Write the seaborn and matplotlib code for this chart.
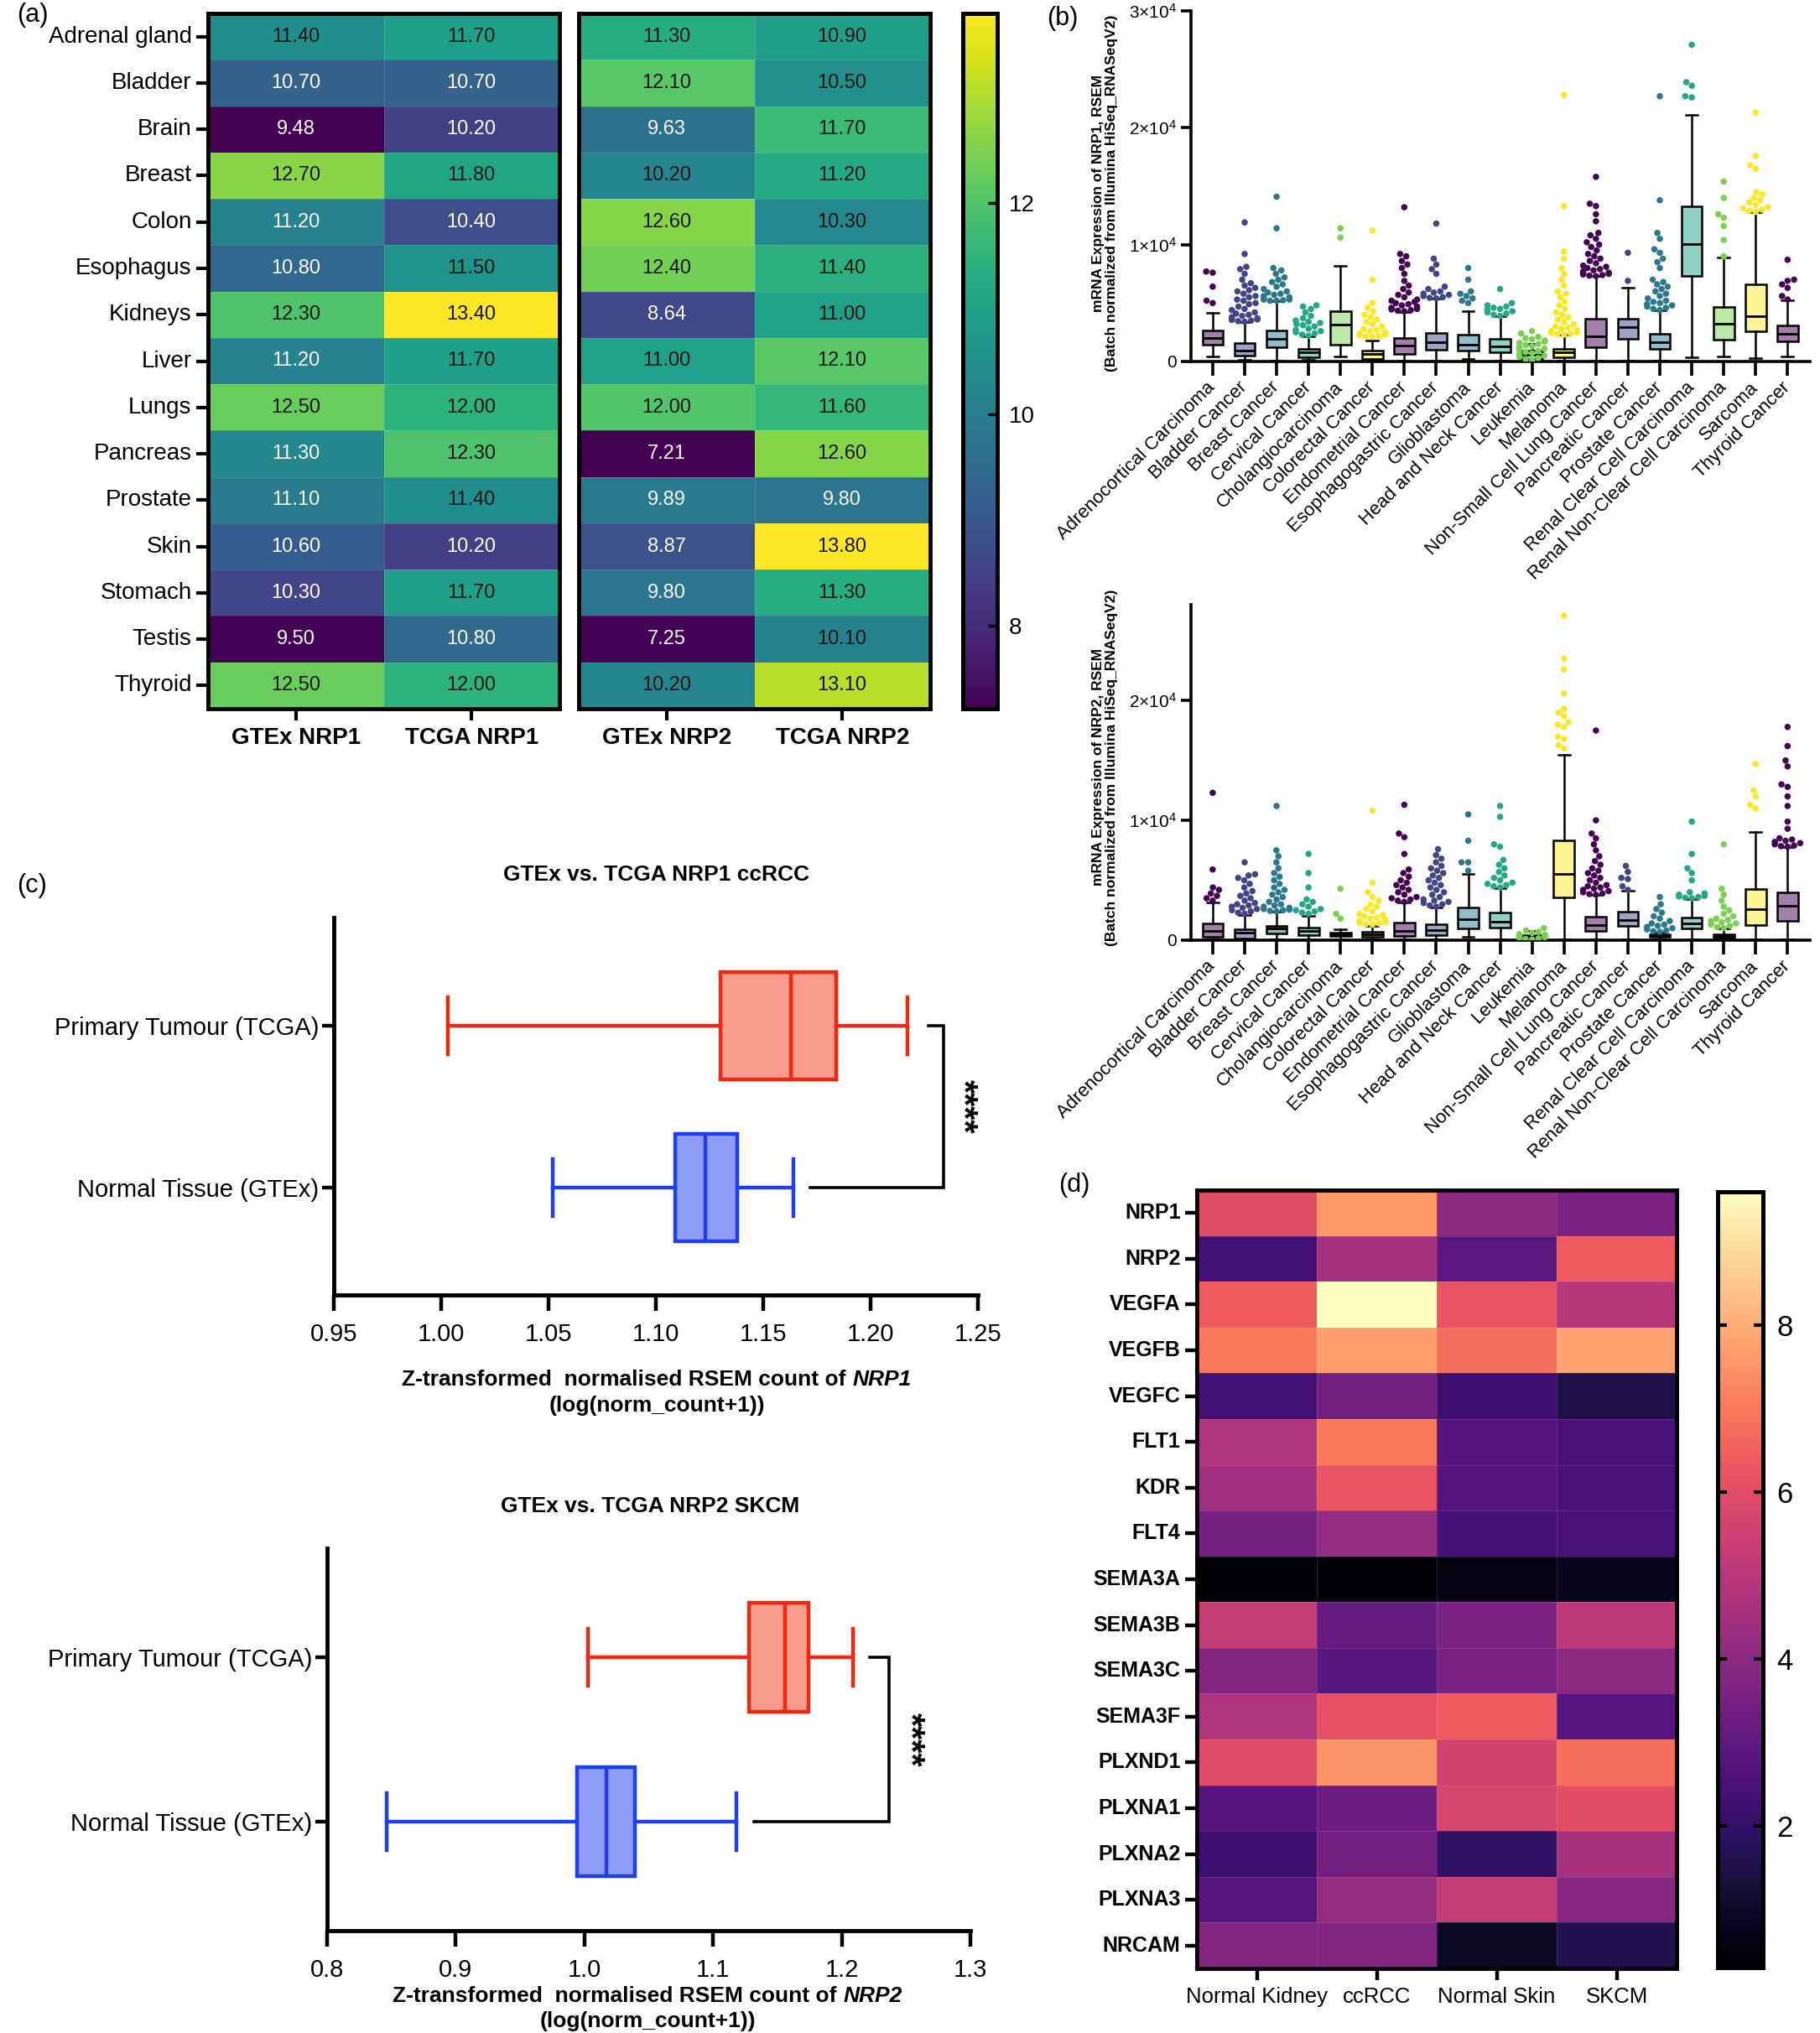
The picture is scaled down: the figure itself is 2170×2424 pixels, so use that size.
import warnings

import numpy as np
import pandas as pd
import matplotlib
matplotlib.use("Agg")
import matplotlib.pyplot as plt
import seaborn as sns
from matplotlib import font_manager
from matplotlib.colors import to_rgb

warnings.filterwarnings("ignore")

# Fonts: Arial-like and a condensed one when available
installed = {f.name for f in font_manager.fontManager.ttflist}
ARIAL = "Liberation Sans"
NARROW = "Liberation Sans Narrow" if "Liberation Sans Narrow" in installed else "Liberation Sans"
plt.rcParams["font.family"] = ARIAL
plt.rcParams["mathtext.fontset"] = "custom"
plt.rcParams["mathtext.rm"] = NARROW
plt.rcParams["mathtext.it"] = NARROW + ":italic"
plt.rcParams["mathtext.bf"] = NARROW + ":bold"

# ---------------- (a) NRP1 / NRP2 tissue expression ----------------
tissues = ["Adrenal gland", "Bladder", "Brain", "Breast", "Colon", "Esophagus", "Kidneys",
           "Liver", "Lungs", "Pancreas", "Prostate", "Skin", "Stomach", "Testis", "Thyroid"]
gtex_nrp1 = [11.40, 10.70, 9.48, 12.70, 11.20, 10.80, 12.30, 11.20, 12.50, 11.30, 11.10, 10.60, 10.30, 9.50, 12.50]
tcga_nrp1 = [11.70, 10.70, 10.20, 11.80, 10.40, 11.50, 13.40, 11.70, 12.00, 12.30, 11.40, 10.20, 11.70, 10.80, 12.00]
gtex_nrp2 = [11.30, 12.10, 9.63, 10.20, 12.60, 12.40, 8.64, 11.00, 12.00, 7.21, 9.89, 8.87, 9.80, 7.25, 10.20]
tcga_nrp2 = [10.90, 10.50, 11.70, 11.20, 10.30, 11.40, 11.00, 12.10, 11.60, 12.60, 9.80, 13.80, 11.30, 10.10, 13.10]
cbar_a_ticks = [8, 10, 12]

# ---------------- (b) NRP1 / NRP2 across cancers (box stats + outliers) ----------------
cancers = ["Adrenocortical Carcinoma", "Bladder Cancer", "Breast Cancer", "Cervical Cancer",
           "Cholangiocarcinoma", "Colorectal Cancer", "Endometrial Cancer", "Esophagogastric Cancer",
           "Glioblastoma", "Head and Neck Cancer", "Leukemia", "Melanoma",
           "Non-Small Cell Lung Cancer", "Pancreatic Cancer", "Prostate Cancer",
           "Renal Clear Cell Carcinoma", "Renal Non-Clear Cell Carcinoma", "Sarcoma", "Thyroid Cancer"]

nrp1_low = [430, 120, 100, 120, 400, 50, 50, 100, 240, 50, 30, 50, 50, 100, 50, 360, 430, 310, 410]
nrp1_q1 = [1400, 480, 1200, 360, 1440, 240, 670, 1000, 960, 770, 250, 360, 1200, 1970, 1080, 7320, 1870, 2570, 1730]
nrp1_median = [2040, 960, 1920, 770, 3170, 670, 1390, 1630, 1440, 1320, 550, 770, 2160, 2930, 1630, 10080, 3240, 3840, 2400]
nrp1_q3 = [2640, 1560, 2640, 1080, 4320, 960, 2040, 2450, 2280, 1970, 900, 1080, 3650, 3650, 2350, 13250, 4680, 6600, 3070]
nrp1_high = [4180, 3360, 5160, 2160, 8200, 1800, 4200, 5400, 4300, 3900, 1500, 2280, 7300, 6300, 4370, 21100, 8930, 12770, 5230]
nrp1_outliers = [
    [5000, 5200, 6400, 7600, 7700],
    [3400, 3450, 3500, 3550, 3600, 3650, 3700, 3800, 3900, 4000, 4100, 4200, 4400, 4500, 4700, 4900,
     5000, 5200, 5300, 5500, 5600, 5800, 6000, 6100, 6300, 6500, 6700, 7000, 7500, 7900, 8100, 9200, 11900],
    [5200, 5200, 5250, 5300, 5300, 5400, 5500, 5600, 5700, 5800, 5900, 6000, 6200, 6400, 6600, 6800,
     7000, 7200, 7500, 7800, 8000, 11400, 14100],
    [2200, 2300, 2400, 2500, 2600, 2700, 2800, 3000, 3100, 3200, 3300, 3400, 3500, 3700, 3900, 4200,
     4500, 4700, 4800],
    [10600, 11400],
    [2100, 2150, 2200, 2250, 2300, 2400, 2500, 2600, 2700, 2800, 3000, 3200, 3400, 3600, 3800, 4000,
     4300, 4600, 5000, 7000, 11200],
    [4300, 4350, 4400, 4450, 4500, 4600, 4700, 4800, 4900, 5000, 5100, 5200, 5300, 5500, 5700, 5900,
     6200, 6500, 6900, 7500, 8000, 8300, 8600, 9000, 9200, 13200],
    [5400, 5450, 5500, 5600, 5700, 5800, 5900, 6000, 6200, 6400, 7500, 7900, 8300, 8800, 11800],
    [5000, 5200, 5400, 5600, 5800, 6000, 7000, 8000],
    [3900, 4000, 4100, 4200, 4300, 4400, 4500, 4600, 4700, 4800, 5000, 6200],
    [100, 200, 300, 400, 500, 600, 700, 800, 900, 1000, 1100, 1200, 1300, 1400, 1500, 1600, 1700,
     1800, 1900, 2000, 2100, 2400, 2600],
    [2300, 2350, 2400, 2450, 2500, 2600, 2700, 2800, 2900, 3000, 3200, 3400, 3600, 3800, 4000, 4200,
     4500, 4800, 5100, 5500, 5800, 6000, 6500, 7000, 7500, 8000, 8800, 9400, 13300, 22800],
    [7300, 7350, 7400, 7450, 7500, 7550, 7600, 7700, 7800, 7900, 8000, 8100, 8200, 8400, 8600, 8800,
     9000, 9200, 9500, 9800, 10000, 10200, 10500, 10800, 11000, 12000, 12600, 13300, 13500, 15800],
    [6900, 9300],
    [4400, 4500, 4600, 4700, 4800, 4900, 5000, 5100, 5200, 5400, 5600, 5800, 6000, 6200, 6400, 6600,
     6800, 7000, 8000, 8500, 8800, 9300, 9600, 10500, 11000, 13800, 22700],
    [22600, 22700, 23600, 23900, 27100],
    [9000, 10400, 11600, 12300, 12600, 14000, 15400],
    [12800, 12900, 13000, 13100, 13200, 13400, 13600, 13800, 14000, 14300, 14500, 16500, 16800, 17600, 21300],
    [5300, 5600, 6300, 6600, 6900, 7000, 8700],
]

nrp2_low = [50, 30, 50, 50, 100, 50, 50, 50, 280, 50, 10, 90, 50, 50, 50, 50, 30, 50, 50]
nrp2_q1 = [280, 160, 560, 400, 330, 280, 330, 440, 980, 1030, 80, 3590, 750, 1210, 280, 980, 200, 1260, 1610]
nrp2_median = [750, 630, 980, 750, 470, 510, 750, 860, 1720, 1560, 250, 5520, 1260, 1680, 400, 1400, 350, 2560, 2890]
nrp2_q3 = [1400, 930, 1210, 1030, 600, 680, 1490, 1330, 2730, 2310, 450, 8320, 1960, 2380, 510, 1910, 500, 4290, 4000]
nrp2_high = [3120, 2100, 2380, 2030, 930, 1210, 3120, 2730, 5520, 4360, 800, 15500, 3770, 4120, 650, 3420, 980, 9020, 7780]
nrp2_outliers = [
    [3300, 3500, 3700, 3900, 4200, 4400, 5900, 12300],
    [2200, 2300, 2400, 2500, 2600, 2700, 2800, 2900, 3000, 3100, 3300, 3500, 3700, 3900, 4100, 4400,
     4700, 5000, 5200, 5400, 5500, 6500],
    [2400, 2450, 2500, 2550, 2600, 2700, 2800, 2900, 3000, 3200, 3400, 3600, 3800, 4000, 4200, 4400,
     4700, 5000, 5300, 5600, 6000, 6500, 7000, 7500, 11200],
    [2200, 2300, 2400, 2500, 2600, 2800, 3000, 3200, 3400, 4400, 5600, 7200],
    [1800, 2200, 4300],
    [1300, 1350, 1400, 1450, 1500, 1600, 1700, 1800, 1900, 2000, 2100, 2200, 2400, 2600, 2800, 3000,
     3300, 3600, 4000, 4800, 10800],
    [3200, 3300, 3400, 3500, 3600, 3800, 4000, 4200, 4400, 4600, 4800, 5000, 5300, 5600, 5900, 7200,
     8600, 8900, 11300],
    [2800, 2900, 3000, 3100, 3200, 3300, 3400, 3600, 3800, 4000, 4200, 4400, 4600, 4800, 5000, 5200,
     5400, 5600, 5800, 6000, 6200, 6500, 6800, 7100, 7600],
    [5800, 6500, 6500, 8300, 10500],
    [4400, 4500, 4600, 4700, 4800, 5000, 5200, 5400, 5700, 6000, 6300, 6700, 7800, 8000, 10300, 11200],
    [50, 100, 150, 200, 250, 300, 350, 400, 450, 500, 600, 700, 800, 1000],
    [16000, 16300, 16800, 17000, 17800, 18000, 18200, 18700, 19000, 19300, 20600, 22600, 23500, 27100],
    [3800, 3850, 3900, 4000, 4100, 4200, 4300, 4400, 4500, 4600, 4800, 5000, 5200, 5400, 5600, 5800,
     6000, 6300, 6600, 7000, 7500, 8000, 8500, 8900, 10000, 17500],
    [4200, 4500, 5100, 5200, 5700, 6200],
    [700, 750, 800, 900, 1000, 1100, 1200, 1300, 1400, 1600, 1800, 2000, 2300, 2600, 3000, 3600],
    [3500, 3550, 3600, 3650, 3700, 3800, 3900, 4000, 5000, 5600, 6000, 7200, 9900],
    [1000, 1100, 1200, 1300, 1400, 1500, 1600, 1700, 1800, 2000, 2200, 2500, 2800, 3300, 3800, 4300, 8000],
    [11000, 11300, 12000, 12500, 14700],
    [7800, 7850, 7900, 8000, 8100, 8200, 8300, 8400, 8500, 9300, 9900, 11200, 12000, 12800, 13000,
     14500, 15000, 16200, 17800],
]
b_top_ticks = [0, 10000, 20000, 30000]
b_top_ticklabels = ["0", "1×10$^{4}$", "2×10$^{4}$", "3×10$^{4}$"]
b_bottom_ticks = [0, 10000, 20000]
b_bottom_ticklabels = ["0", "1×10$^{4}$", "2×10$^{4}$"]

# ---------------- (c) GTEx vs TCGA (whisker low, q1, median, q3, whisker high) ----------------
groups = ["Primary Tumour (TCGA)", "Normal Tissue (GTEx)"]
ccrcc_tumour = [1.003, 1.130, 1.163, 1.184, 1.217]
ccrcc_normal = [1.052, 1.109, 1.123, 1.138, 1.164]
skcm_tumour = [1.003, 1.128, 1.156, 1.174, 1.209]
skcm_normal = [0.846, 0.994, 1.017, 1.039, 1.118]
ccrcc_xticks = [0.95, 1.00, 1.05, 1.10, 1.15, 1.20, 1.25]
skcm_xticks = [0.8, 0.9, 1.0, 1.1, 1.2, 1.3]

# ---------------- (d) pathway genes ----------------
genes = ["NRP1", "NRP2", "VEGFA", "VEGFB", "VEGFC", "FLT1", "KDR", "FLT4", "SEMA3A", "SEMA3B",
         "SEMA3C", "SEMA3F", "PLXND1", "PLXNA1", "PLXNA2", "PLXNA3", "NRCAM"]
normal_kidney = [6.0, 2.3, 6.4, 7.0, 2.3, 4.8, 4.5, 3.5, 0.3, 5.3, 3.8, 4.8, 5.9, 2.7, 2.2, 2.8, 3.8]
ccrcc = [7.6, 4.6, 9.6, 7.7, 3.4, 7.0, 6.2, 4.2, 0.3, 3.1, 2.8, 6.1, 7.5, 3.3, 3.4, 4.2, 3.8]
normal_skin = [4.0, 2.9, 6.2, 6.8, 2.2, 2.7, 2.7, 2.4, 0.6, 3.6, 3.6, 6.4, 5.6, 5.7, 1.9, 5.3, 0.9]
skcm = [3.6, 6.4, 5.0, 7.8, 1.5, 2.5, 2.5, 2.5, 0.8, 5.1, 4.0, 2.8, 6.8, 6.0, 4.6, 3.9, 1.6]
cbar_d_ticks = [2, 4, 6, 8]

# Figure in pixels
W, H = 2170, 2424
fig = plt.figure(figsize=(W / 100, H / 100), dpi=100)


def px_axes(left, top, right, bottom):
    return fig.add_axes([left / W, 1 - bottom / H, (right - left) / W, (bottom - top) / H])


def frame(ax, lw=3):
    for sp in ax.spines.values():
        sp.set_visible(True)
        sp.set_linewidth(lw)
        sp.set_color("black")


# ================= (a) =================
nrp1_df = pd.DataFrame({"GTEx NRP1": gtex_nrp1, "TCGA NRP1": tcga_nrp1}, index=tissues)
nrp2_df = pd.DataFrame({"GTEx NRP2": gtex_nrp2, "TCGA NRP2": tcga_nrp2}, index=tissues)

ax_a1 = px_axes(248, 16, 667, 845)
ax_a2 = px_axes(690, 16, 1109, 845)
cax_a = px_axes(1148, 16, 1189, 845)

annot_style = {"fontsize": 17, "family": NARROW}
sns.heatmap(nrp1_df, ax=ax_a1, cmap="viridis", annot=True, fmt=".2f", cbar=False,
            linewidths=0.6, linecolor=(1, 1, 1, 0.12), annot_kws=annot_style,
            xticklabels=True, yticklabels=True)
sns.heatmap(nrp2_df, ax=ax_a2, cmap="viridis", annot=True, fmt=".2f", cbar_ax=cax_a,
            linewidths=0.6, linecolor=(1, 1, 1, 0.12), annot_kws=annot_style,
            xticklabels=True, yticklabels=False)

# white text on the darker cells
for ax, limit in [(ax_a1, 11.35), (ax_a2, 10.0)]:
    for t in ax.texts:
        t.set_color("white" if float(t.get_text()) < limit else "#151515")

for ax in (ax_a1, ax_a2):
    frame(ax, 3.5)
    ax.tick_params(axis="x", length=10, width=3, pad=6, labelrotation=0)
    for lab in ax.get_xticklabels():
        lab.set_fontfamily(NARROW)
        lab.set_fontweight("bold")
        lab.set_fontsize(20)
ax_a1.tick_params(axis="y", length=10, width=3, pad=4, labelrotation=0)
for lab in ax_a1.get_yticklabels():
    lab.set_fontfamily(NARROW)
    lab.set_fontsize(20)
ax_a2.tick_params(axis="y", length=0)

cax_a.set_yticks(cbar_a_ticks)
cax_a.tick_params(axis="y", direction="in", length=8, width=2.5, labelsize=20, pad=10)
for lab in cax_a.get_yticklabels():
    lab.set_fontfamily(NARROW)
frame(cax_a, 3.5)

# ================= (b) =================
# six viridis colours including both ends, repeated along the cancers
pal6 = [plt.get_cmap("viridis")(v) for v in np.linspace(0, 1, 6)]
dot_colors = [pal6[i % 6][:3] for i in range(len(cancers))]
box_colors = [tuple(0.5 * np.array(to_rgb(c)) + 0.5) for c in dot_colors]


def draw_b(ax, low, q1, med, q3, high, outliers, ymax, ticks, ticklabels, gene, label_y):
    rows = [(c, v) for c, vals in zip(cancers, outliers) for v in vals]
    pts = pd.DataFrame(rows, columns=["cancer", "value"])
    sns.swarmplot(data=pts, x="cancer", y="value", hue="cancer", order=cancers,
                  palette=dict(zip(cancers, dot_colors)), size=5.4, legend=False,
                  ax=ax, zorder=3)
    stats = [dict(whislo=a, q1=b, med=c, q3=d, whishi=e, fliers=[])
             for a, b, c, d, e in zip(low, q1, med, q3, high)]
    bp = ax.bxp(stats, positions=range(len(cancers)), widths=0.65, capwidths=0.36,
                patch_artist=True, showfliers=False, manage_ticks=False,
                boxprops=dict(linewidth=1.8, edgecolor="black"),
                whiskerprops=dict(linewidth=1.8, color="black"),
                capprops=dict(linewidth=1.8, color="black"),
                medianprops=dict(linewidth=2.0, color="black"))
    for patch, col in zip(bp["boxes"], box_colors):
        patch.set_facecolor(col)
        patch.set_zorder(2)
    ax.set_xlim(-0.68, len(cancers) - 0.3)
    ax.set_ylim(0, ymax)
    ax.set_yticks(ticks)
    ax.set_yticklabels(ticklabels, fontsize=15, fontfamily=NARROW)
    ax.set_xticks(range(len(cancers)))
    ax.set_xticklabels(cancers, rotation=45, ha="right", va="center",
                       rotation_mode="anchor", fontsize=16)
    ax.set_xlabel("")
    ax.set_ylabel("mRNA Expression of " + gene + ", RSEM\n"
                  "(Batch normalized from Illumina HiSeq_RNASeqV2)",
                  fontsize=12.5, fontweight="bold", linespacing=1.05)
    ax.yaxis.set_label_coords(-0.118, label_y)
    for side in ("top", "right"):
        ax.spines[side].set_visible(False)
    for side in ("left", "bottom"):
        ax.spines[side].set_linewidth(2.6)
    ax.tick_params(axis="x", length=12, width=2.6, pad=8)
    ax.tick_params(axis="y", length=9, width=2.6, pad=3)
    ax.set_facecolor("none")


ax_b1 = px_axes(1420, 13, 2158, 431)
ax_b2 = px_axes(1420, 721, 2158, 1121)
draw_b(ax_b1, nrp1_low, nrp1_q1, nrp1_median, nrp1_q3, nrp1_high, nrp1_outliers,
       30000, b_top_ticks, b_top_ticklabels, "NRP1", 0.48)
draw_b(ax_b2, nrp2_low, nrp2_q1, nrp2_median, nrp2_q3, nrp2_high, nrp2_outliers,
       28000, b_bottom_ticks, b_bottom_ticklabels, "NRP2", 0.515)

# ================= (c) =================
RED, SALMON = "#F5260F", "#F99C8E"
BLUE, LIGHTBLUE = "#1F3DF2", "#8E9DF7"


def two_part_label(x_center, y, plain, italic, size):
    # bold label whose gene name is bold italic, centred on x_center (pixels)
    t1 = fig.text(0, 1 - y / H, plain, fontsize=size, fontweight="bold",
                  fontfamily=NARROW, va="center", ha="left")
    t2 = fig.text(0, 1 - y / H, italic, fontsize=size, fontweight="bold", style="italic",
                  fontfamily=NARROW, va="center", ha="left")
    r = fig.canvas.get_renderer()
    w1 = t1.get_window_extent(r).width
    w2 = t2.get_window_extent(r).width
    gap = 0.28 * size * 100 / 72
    start = x_center - (w1 + gap + w2) / 2
    t1.set_x(start / W)
    t2.set_x((start + w1 + gap) / W)


def draw_c(ax, tumour, normal, xticks, fmt, ylim, bracket):
    stats = [dict(whislo=r[0], q1=r[1], med=r[2], q3=r[3], whishi=r[4], fliers=[])
             for r in (tumour, normal)]
    bp = ax.bxp(stats, positions=[0, 1], widths=0.66, capwidths=0.35,
                orientation="horizontal", patch_artist=True, showfliers=False,
                manage_ticks=False)
    for i, (edge, face) in enumerate([(RED, SALMON), (BLUE, LIGHTBLUE)]):
        bp["boxes"][i].set(facecolor=face, edgecolor=edge, linewidth=3.2)
        bp["medians"][i].set(color=edge, linewidth=3.2)
        for line in bp["whiskers"][2 * i:2 * i + 2] + bp["caps"][2 * i:2 * i + 2]:
            line.set(color=edge, linewidth=3.2)
    top_start, bar_x, bottom_start, star_x = bracket
    ax.plot([top_start, bar_x, bar_x, bottom_start], [0, 0, 1, 1], color="black",
            linewidth=2.6, clip_on=False, solid_joinstyle="miter")
    ax.text(star_x, 0.5, "****", rotation=270, ha="center", va="center",
            fontsize=30, fontweight="bold")
    ax.set_xlim(xticks[0], xticks[-1])
    ax.set_ylim(*ylim)
    ax.set_xticks(xticks)
    ax.set_xticklabels([fmt.format(v) for v in xticks], fontsize=21, fontfamily=NARROW)
    ax.set_yticks([0, 1])
    ax.set_yticklabels(groups, fontsize=21, fontfamily=NARROW)
    for side in ("top", "right"):
        ax.spines[side].set_visible(False)
    for side in ("left", "bottom"):
        ax.spines[side].set_linewidth(3.5)
    ax.tick_params(axis="x", length=14, width=3.2, pad=10)
    ax.tick_params(axis="y", length=10, width=3.2, pad=3)


ax_c1 = px_axes(398, 1094, 1166, 1544)
ax_c2 = px_axes(390, 1846, 1157, 2302)
draw_c(ax_c1, ccrcc_tumour, ccrcc_normal, ccrcc_xticks, "{:.2f}", (1.663, -0.668),
       (1.227, 1.234, 1.172, 1.243))
draw_c(ax_c2, skcm_tumour, skcm_normal, skcm_xticks, "{:.1f}", (1.663, -0.663),
       (1.222, 1.237, 1.132, 1.253))
fig.text(783 / W, 1 - 1043 / H, "GTEx vs. TCGA NRP1 ccRCC", fontsize=19, fontweight="bold",
         fontfamily=NARROW, ha="center", va="center")
fig.text(775 / W, 1 - 1796 / H, "GTEx vs. TCGA NRP2 SKCM", fontsize=19, fontweight="bold",
         fontfamily=NARROW, ha="center", va="center")
two_part_label(783, 1645, "Z-transformed  normalised RSEM count of", "NRP1", 19)
fig.text(783 / W, 1 - 1676 / H, "(log(norm_count+1))", fontsize=19, fontweight="bold",
         fontfamily=NARROW, ha="center", va="center")
two_part_label(772, 2380, "Z-transformed  normalised RSEM count of", "NRP2", 19)
fig.text(772 / W, 1 - 2410 / H, "(log(norm_count+1))", fontsize=19, fontweight="bold",
         fontfamily=NARROW, ha="center", va="center")

# ================= (d) =================
d_df = pd.DataFrame({"Normal Kidney": normal_kidney, "ccRCC": ccrcc,
                     "Normal Skin": normal_skin, "SKCM": skcm}, index=genes)
ax_d = px_axes(1427, 1419, 1999, 2347)
cax_d = px_axes(2048, 1421, 2102, 2346)
sns.heatmap(d_df, ax=ax_d, cmap="magma", cbar_ax=cax_d, linewidths=0.5,
            linecolor=(1, 1, 1, 0.12), xticklabels=True, yticklabels=True)
frame(ax_d, 3.5)
ax_d.tick_params(axis="both", length=10, width=3.2, pad=4)
ax_d.tick_params(axis="x", labelrotation=0, labelsize=18.5, pad=6)
ax_d.tick_params(axis="y", labelrotation=0, labelsize=18)
for lab in ax_d.get_yticklabels():
    lab.set_fontweight("bold")
cax_d.set_yticks(cbar_d_ticks)
cax_d.tick_params(axis="y", direction="in", left=True, right=True, length=8, width=3,
                  labelsize=25, pad=12)
frame(cax_d, 3.5)

# Panel letters
for letter, x, y in [("(a)", 20, 18), ("(b)", 1248, 22), ("(c)", 20, 1056), ("(d)", 1262, 1413)]:
    fig.text(x / W, 1 - y / H, letter, fontsize=22, ha="left", va="center")

fig.savefig("out.png", dpi=100)
